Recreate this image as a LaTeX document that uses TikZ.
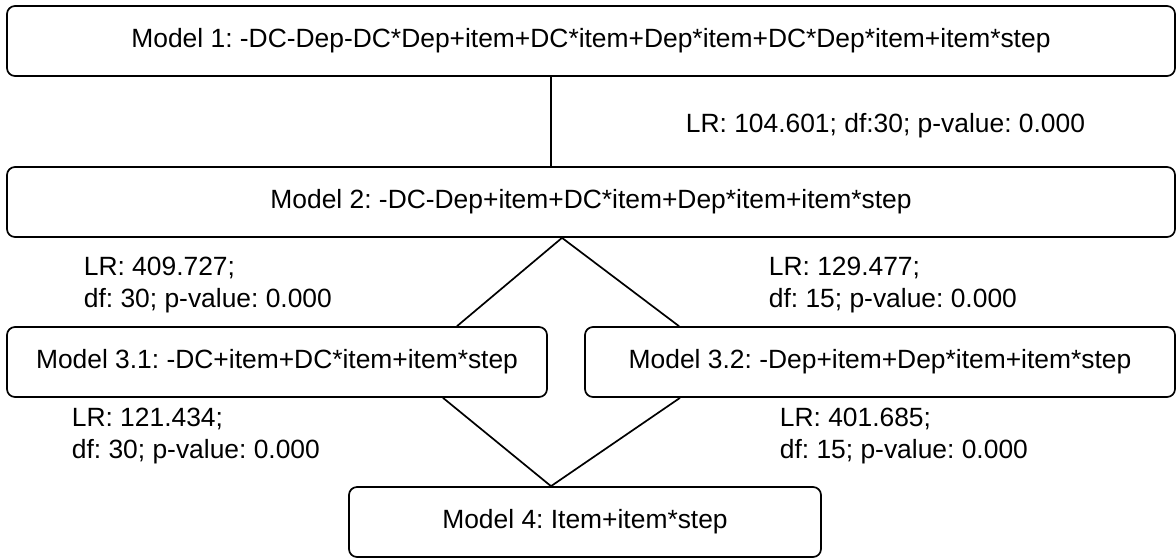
\documentclass[tikz,border=0pt]{standalone}
\usepackage{fontspec}
\setmainfont{Liberation Sans}
\usetikzlibrary{calc}
\frenchspacing

\tikzset{
    model/.style={draw, rounded corners=4pt, inner sep=0pt, minimum height=35pt},
    stat/.style={inner sep=0pt, align=left, anchor=west},
}

\begin{document}
\begin{tikzpicture}[x=0.5pt,y=-0.5pt,line width=0.85pt,font=\fontsize{13.2}{16}\selectfont]
        \useasboundingbox (0,0) rectangle (1176,558);

        \node [model, minimum width=584pt] (m1) at (591,41) {Model 1: -DC-Dep-DC*Dep+item+DC*item+Dep*item+DC*Dep*item+item*step};
        \node [model, minimum width=584pt] (m2) at (591,202) {Model 2: -DC-Dep+item+DC*item+Dep*item+item*step};
        \node [model, minimum width=270pt] (m31) at (277,362) {Model 3.1: -DC+item+DC*item+item*step};
        \node [model, minimum width=295pt] (m32) at (880,362) {Model 3.2: -Dep+item+Dep*item+item*step};
        \node [model, minimum width=236pt] (m4) at (585,522) {Model 4: Item+item*step};

        \draw ([xshift=-20pt]m1.south) -- ([xshift=-20pt]m2.north);
        \draw ([xshift=90pt]m31.north) -- ([xshift=-14.5pt]m2.south) -- ([xshift=-100.5pt]m32.north);
        \draw ([xshift=83pt]m31.south) -- ([xshift=-17pt]m4.north) -- ([xshift=-100pt]m32.south);

        \node [stat, anchor=base west] (lr12) at (685,132) {LR: 104.601; df:30; p-value: 0.000};
        \node [stat] (lr231) at (83,285) {LR: 409.727;\\df: 30; p-value: 0.000};
        \node [stat] (lr232) at (768,285) {LR: 129.477;\\df: 15; p-value: 0.000};
        \node [stat] (lr314) at (71,436) {LR: 121.434;\\df: 30; p-value: 0.000};
        \node [stat] (lr324) at (779,436) {LR: 401.685;\\df: 15; p-value: 0.000};
    \end{tikzpicture}
\end{document}
